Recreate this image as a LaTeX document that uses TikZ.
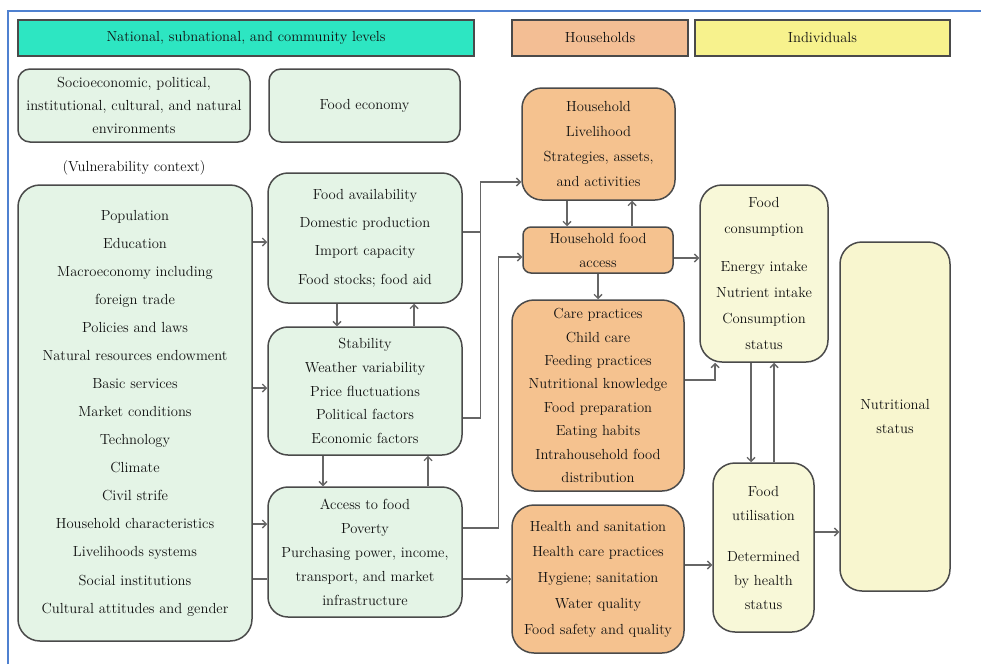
\documentclass[tikz,border=0pt]{standalone}
\usepackage{fontspec}
\usetikzlibrary{arrows.meta,calc}
\definecolor{teal1}{HTML}{2DE6C2}
\definecolor{hhhead}{HTML}{F3BE94}
\definecolor{indhead}{HTML}{F7F28D}
\definecolor{greenfill}{HTML}{E4F4E6}
\definecolor{orangefill}{HTML}{F5C28F}
\definecolor{creamfill}{HTML}{F8F8D8}
\definecolor{nutfill}{HTML}{F8F6CF}
\definecolor{boxline}{HTML}{4A4A4A}
\definecolor{arrline}{HTML}{666666}
\definecolor{frameblue}{HTML}{4F81D0}
\definecolor{txt}{HTML}{111111}
\newcommand\myfs[1]{\fontsize{14.6}{#1}\selectfont}
\begin{document}
\begin{tikzpicture}[x=1pt,y=-1pt,
  every node/.style={text=txt},
  basebox/.style={draw=boxline, line width=1.5pt, align=center, inner sep=0pt},
  header/.style={basebox, minimum height=36pt},
  gbox/.style={basebox, fill=greenfill, rounded corners=18pt},
  obox/.style={basebox, fill=orangefill, rounded corners=18pt},
  ybox/.style={basebox, fill=creamfill, rounded corners=18pt},
  conn/.style={draw=arrline, line width=1.4pt},
  arr/.style={conn, -{Straight Barb[length=4pt,width=8pt]}}
]
\useasboundingbox (0,0) rectangle (981,664);
\fill[white] (0,0) rectangle (981,664);
\draw[frameblue, line width=1.8pt] (8,664) -- (8,11) -- (981,11);

% headers
\node[header, fill=teal1, minimum width=456pt, font=\myfs{16}] (nat) at (246,38) {National, subnational, and community levels};
\node[header, fill=hhhead, minimum width=176pt, font=\myfs{16}] (hh) at (600,38) {Households};
\node[header, fill=indhead, minimum width=255pt, font=\myfs{16}] (ind) at (822.5,38) {Individuals};

% top boxes
\node[gbox, rounded corners=12pt, minimum width=232pt, minimum height=73pt, font=\myfs{23}] (socio) at (134,105.5)
  {Socioeconomic, political,\\institutional, cultural, and natural\\environments};
\node[gbox, rounded corners=12pt, minimum width=191pt, minimum height=73pt, font=\myfs{23}] (econ) at (364.5,105.5) {Food economy};
\node[font=\myfs{16}] (vuln) at (134,168) {(Vulnerability context)};

% left big box
\node[gbox, rounded corners=22pt, minimum width=234pt, minimum height=456pt, font=\myfs{28.07}] (left) at (135,413)
  {Population\\Education\\Macroeconomy including\\foreign trade\\Policies and laws\\Natural resources endowment\\Basic services\\Market conditions\\Technology\\Climate\\Civil strife\\Household characteristics\\Livelihoods systems\\Social institutions\\Cultural attitudes and gender};

% food economy column
\node[gbox, rounded corners=20pt, minimum width=194pt, minimum height=130pt, font=\myfs{28.3}] (avail) at (365,238)
  {Food availability\\Domestic production\\Import capacity\\Food stocks; food aid};
\node[gbox, rounded corners=20pt, minimum width=194pt, minimum height=128pt, font=\myfs{23.75}] (stab) at (365,391)
  {Stability\\Weather variability\\Price fluctuations\\Political factors\\Economic factors};
\node[gbox, rounded corners=20pt, minimum width=194pt, minimum height=130pt, font=\myfs{24}] (access) at (365,552)
  {Access to food\\Poverty\\Purchasing power, income,\\transport, and market\\infrastructure};

% households column
\node[obox, rounded corners=20pt, minimum width=153pt, minimum height=112pt, font=\myfs{25.3}] (livel) at (598.5,144)
  {Household\\Livelihood\\Strategies, assets,\\and activities};
\node[obox, rounded corners=8pt, minimum width=150pt, minimum height=46pt, font=\myfs{24}] (hhacc) at (598,250)
  {Household food\\access};
\node[obox, rounded corners=22pt, minimum width=172pt, minimum height=191pt, font=\myfs{23.4}] (care) at (598,395.5)
  {Care practices\\Child care\\Feeding practices\\Nutritional knowledge\\Food preparation\\Eating habits\\Intrahousehold food\\distribution};
\node[obox, rounded corners=22pt, minimum width=172pt, minimum height=148pt, font=\myfs{25.75}] (health) at (598,579)
  {Health and sanitation\\Health care practices\\Hygiene; sanitation\\Water quality\\Food safety and quality};

% individuals column
\node[ybox, rounded corners=22pt, minimum width=128pt, minimum height=177pt, font=\myfs{26}] (cons) at (764,273.5)
  {Food\\consumption\\[12pt]Energy intake\\Nutrient intake\\Consumption\\status};
\node[ybox, rounded corners=22pt, minimum width=101pt, minimum height=169pt, font=\myfs{24}] (util) at (763.5,547.5)
  {Food\\utilisation\\[17pt]Determined\\by health\\status};
\node[basebox, fill=nutfill, rounded corners=22pt, minimum width=110pt, minimum height=349pt, font=\myfs{24}] (nut) at (895,416.5)
  {Nutritional\\status};

% connectors: left box to food economy
\coordinate (v1) at ([yshift=-4pt]avail.west);
\draw[arr] (left.east |- v1) -- (v1);
\coordinate (s1) at ([yshift=3pt]stab.west);
\draw[arr] (left.east |- s1) -- (s1);
\coordinate (a1) at ([yshift=28pt]access.west);
\draw[arr] (left.east |- a1) -- (a1);
\coordinate (a2) at ([yshift=-27pt]access.west);
\draw[conn] (left.east |- a2) -- (a2);

% between food economy boxes
\draw[arr] ([xshift=-28pt]avail.south) -- ([xshift=-28pt]stab.north);
\draw[arr] ([xshift=49pt]stab.north) -- ([xshift=49pt]avail.south);
\draw[arr] ([xshift=-42pt]stab.south) -- ([xshift=-42pt]access.north);
\draw[arr] ([xshift=63pt]access.north) -- ([xshift=63pt]stab.south);

% food economy to households
\coordinate (lv) at ([yshift=-38pt]livel.west);
\draw[arr] ([yshift=-27pt]stab.east) -- ++(18,0) |- (lv);
\draw[conn] ([yshift=6pt]avail.east) -- ++(18,0);
\coordinate (ha) at ([yshift=-7pt]hhacc.west);
\draw[arr] ([yshift=24pt]access.east) -- ++(36,0) |- (ha);
\draw[arr] ([yshift=-27pt]access.east) -- (health.west);

% within households
\draw[arr] ([xshift=-31.5pt]livel.south) -- ([xshift=-31pt]hhacc.north);
\draw[arr] ([xshift=34pt]hhacc.north) -- ([xshift=33.5pt]livel.south);
\draw[arr] (hhacc.south) -- (care.north);

% households to individuals
\coordinate (hc) at ([yshift=-8pt]hhacc.east);
\draw[arr] (hc) -- (cons.west |- hc);
\draw[arr] ([yshift=15.5pt]care.east) -| ([xshift=-49pt]cons.south);
\coordinate (hu) at ([yshift=14pt]health.east);
\draw[arr] (hu) -- (util.west |- hu);

% individuals
\draw[arr] ([xshift=-13pt]cons.south) -- ([xshift=-12.5pt]util.north);
\draw[arr] ([xshift=10.5pt]util.north) -- ([xshift=10pt]cons.south);
\coordinate (un) at ([yshift=15.5pt]util.east);
\draw[arr] (un) -- (nut.west |- un);
\end{tikzpicture}
\end{document}
